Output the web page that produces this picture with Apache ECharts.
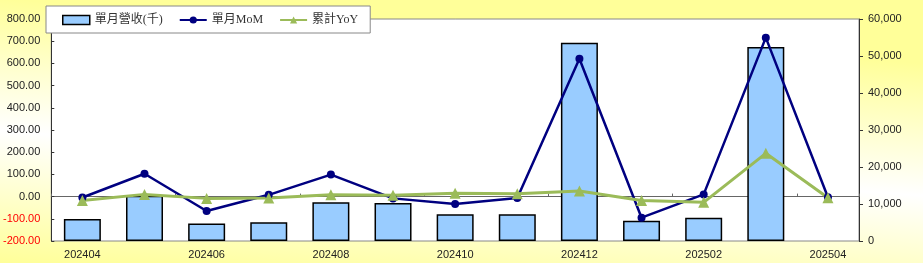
<!DOCTYPE html>
<html>
<head>
<meta charset="utf-8">
<script src="https://cdn.jsdelivr.net/npm/echarts@6/dist/echarts.min.js"></script>
<style>html,body{margin:0;padding:0;}#c{width:923px;height:263px;}</style>
</head>
<body>
<div id="c"></div>
<script>
var categories = ['202404','202405','202406','202407','202408','202409','202410','202411','202412','202501','202502','202503','202504'];
var revenue = [5950, 12200, 4700, 5050, 10450, 10250, 7200, 7200, 53600, 5500, 6300, 52400, null];
var mom = [-4, 103, -65, 8, 99, -8, -33, -6, 621, -95, 10, 716, -3];
var yoy = [-18, 10, -8, -6, 8, 6, 15, 13, 25, -18, -26, 195, -5];
var leftTicks = {min: -200, max: 800, interval: 100};
var rightTicks = {min: 0, max: 60000, interval: 10000};

var chart = echarts.init(document.getElementById('c'));
var axisFont = {fontFamily: 'Liberation Sans, Arial, sans-serif', fontSize: 11, color: '#222'};
chart.setOption({
  animation: false,
  graphic: [{
    type: 'rect', z: -10, silent: true,
    shape: {x: 0, y: 0, width: 923, height: 263},
    style: {fill: new echarts.graphic.LinearGradient(0.02, 0, 0, 1, [
      {offset: 0, color: '#FFFF99'},
      {offset: 0.5, color: '#FFFFFF'},
      {offset: 1, color: '#FFFF99'}
    ])}
  }],
  legend: {
    left: 46, top: 6,
    padding: [8, 12, 7, 16],
    backgroundColor: '#fff', borderColor: '#888', borderWidth: 1,
    itemGap: 16, itemWidth: 27, itemHeight: 9,
    textStyle: {fontFamily: 'Liberation Serif, "Noto Sans CJK TC", serif', fontSize: 12, color: '#333'},
    data: [
      {name: '單月營收(千)', icon: 'rect', itemStyle: {color: '#99CCFF', borderColor: '#000', borderWidth: 1.5}},
      {name: '單月MoM'},
      {name: '累計YoY'}
    ]
  },
  grid: {left: 50, right: 64, top: 19, bottom: 22, show: true, backgroundColor: '#fff', borderColor: '#888', borderWidth: 1},
  xAxis: {
    type: 'category', data: categories, boundaryGap: true,
    axisLine: {lineStyle: {color: '#666', width: 1}},
    axisTick: {show: true, inside: true, length: 3, lineStyle: {color: '#666'}},
    axisLabel: Object.assign({interval: 1, margin: 8}, axisFont)
  },
  yAxis: [{
    type: 'value', min: leftTicks.min, max: leftTicks.max, interval: leftTicks.interval,
    axisLine: {show: true, lineStyle: {color: '#333'}},
    axisTick: {show: true, inside: true, length: 3, lineStyle: {color: '#333'}},
    splitLine: {show: false},
    axisLabel: Object.assign({margin: 11, formatter: function (v) { return v.toFixed(2); },
      color: function (v) { return Number(v) < 0 ? '#FF0000' : '#222'; }}, {fontFamily: axisFont.fontFamily, fontSize: 11})
  }, {
    type: 'value', position: 'right', min: rightTicks.min, max: rightTicks.max, interval: rightTicks.interval,
    axisLine: {show: true, lineStyle: {color: '#333'}},
    axisTick: {show: true, inside: false, length: 4, lineStyle: {color: '#333'}},
    splitLine: {show: false},
    axisLabel: Object.assign({margin: 9, formatter: function (v) { return v.toLocaleString('en-US'); }}, axisFont)
  }],
  series: [{
    name: '單月營收(千)', type: 'bar', yAxisIndex: 1, data: revenue, barWidth: 37,
    itemStyle: {color: '#99CCFF', borderColor: '#000', borderWidth: 1.5}
  }, {
    name: '單月MoM', type: 'line', yAxisIndex: 0, data: mom,
    symbol: 'circle', symbolSize: 8,
    lineStyle: {color: '#000080', width: 2.5},
    itemStyle: {color: '#000080'}
  }, {
    name: '累計YoY', type: 'line', yAxisIndex: 0, data: yoy,
    symbol: 'triangle', symbolSize: 11,
    lineStyle: {color: '#9BBB59', width: 3},
    itemStyle: {color: '#9BBB59'}
  }]
});
</script>
</body>
</html>
